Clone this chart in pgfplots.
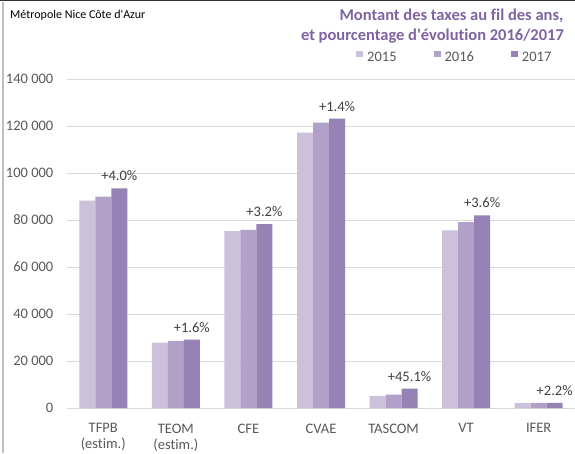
\documentclass[border=0pt]{standalone}
\usepackage{pgfplots}
\pgfplotsset{compat=1.18}
\usepackage{fontspec}
\setmainfont{Carlito}[Ligatures={TeXOff,CommonOff}]
\definecolor{cA}{HTML}{CCC0DA}
\definecolor{cB}{HTML}{B1A0C7}
\definecolor{cC}{HTML}{9782B5}
\definecolor{txt}{HTML}{595959}
\definecolor{lbl}{HTML}{404040}
\definecolor{ttl}{HTML}{8064A2}
\definecolor{grd}{HTML}{D9D9D9}
\begin{document}
\begin{tikzpicture}
\path[use as bounding box] (0,0) rectangle (575pt,453pt);
\fill[white] (0,0) rectangle (575pt,453pt);
\begin{axis}[
  at={(67pt,45pt)}, anchor=south west,
  scale only axis, width=508pt, height=329pt,
  xmin=-0.5, xmax=6.5, ymin=0, ymax=140000,
  ybar=0pt, bar width=16pt,
  axis x line*=bottom, axis y line*=left,
  x axis line style={draw=grd, line width=0.8pt},
  y axis line style={draw=none},
  ymajorgrids, grid style={draw=grd, line width=0.8pt},
  major tick length=0pt,
  xtick={0,...,6},
  xticklabels={TFPB\\(estim.), TEOM\\(estim.), CFE, CVAE, TASCOM, VT, IFER},
  xticklabel style={align=center, anchor=north, inner sep=0pt, yshift=-15.4pt, font=\fontsize{14.5}{16}\selectfont, text=txt},
  ytick={0,20000,40000,60000,80000,100000,120000,140000},
  scaled y ticks=false,
  yticklabel style={anchor=east, inner sep=0pt, xshift=-13.5pt, font=\fontsize{14.5}{16}\selectfont, text=txt,
    /pgf/number format/fixed, /pgf/number format/precision=0,
    /pgf/number format/1000 sep={\ }, /pgf/number format/assume math mode=true},
  legend columns=3,
  legend style={at={(axis description cs:0.5689,1.0669)}, anchor=west, draw=none, fill=none, inner sep=0pt,
    font=\fontsize{14.5}{16}\selectfont, text=txt, nodes={inner sep=0pt},
    /tikz/every odd column/.append style={column sep=4pt},
    /tikz/every even column/.append style={column sep=37pt}},
]
\addplot[fill=cA, draw=none, legend image code/.code={\fill[cA] (0pt,0.5pt) rectangle (7pt,7pt);}]
  coordinates {(0,88200) (1,27800) (2,75300) (3,117200) (4,5100) (5,75600) (6,2100)};
\addlegendentry{2015}
\addplot[fill=cB, draw=none, legend image code/.code={\fill[cB] (0pt,0.5pt) rectangle (7pt,7pt);}]
  coordinates {(0,89900) (1,28600) (2,75800) (3,121400) (4,5700) (5,79100) (6,2150)};
\addlegendentry{2016}
\addplot[fill=cC, draw=none, legend image code/.code={\fill[cC] (0pt,0.5pt) rectangle (7pt,7pt);},
  nodes near coords, point meta=explicit symbolic,
  every node near coord/.append style={anchor=base, yshift=7.5pt, inner sep=0pt, font=\fontsize{14.5}{16}\selectfont, text=lbl}]
  coordinates {(0,93500)[+4.0\%] (1,29060)[+1.6\%] (2,78200)[+3.2\%] (3,123100)[+1.4\%] (4,8270)[+45.1\%] (5,81950)[+3.6\%] (6,2200)[+2.2\%]};
\addlegendentry{2017}
\end{axis}
\node[anchor=base west, inner sep=0pt, font=\fontsize{12}{14}\selectfont] at (10pt,434pt) {Métropole Nice Côte d'Azur};
\node[anchor=base east, inner sep=0pt, font=\bfseries\fontsize{16.5}{19}\selectfont, text=ttl] at (563.5pt,432.3pt) {Montant des taxes au fil des ans,};
\node[anchor=base east, inner sep=0pt, font=\bfseries\fontsize{16.5}{19}\selectfont, text=ttl] at (564pt,412.3pt) {et pourcentage d'évolution 2016/2017};
\draw[black!80, line width=1.5pt] (0,452.25pt) -- (575pt,452.25pt);
\draw[black!25, line width=1.2pt] (3pt,0) -- (3pt,451pt);
\end{tikzpicture}
\end{document}
